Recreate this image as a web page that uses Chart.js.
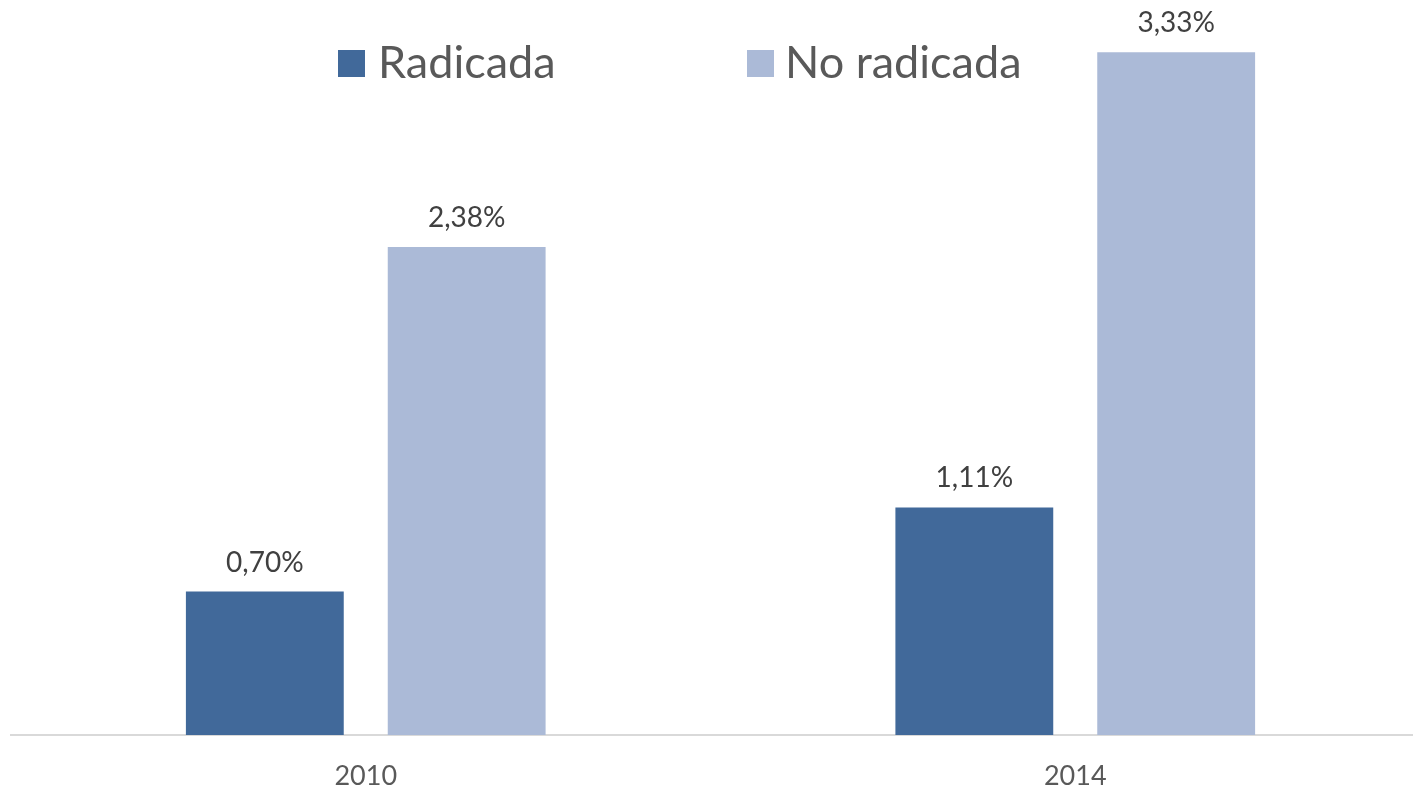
<!DOCTYPE html>
<html>
<head>
<meta charset="utf-8">
<script src="https://cdn.jsdelivr.net/npm/chart.js@4"></script>
<style>
  html, body { margin: 0; padding: 0; background: #fff; overflow: hidden; }
  #wrap { width: 1450px; height: 787px; position: relative; }
</style>
</head>
<body>
<div id="wrap"><canvas id="c"></canvas></div>
<script>
const categories = ["2010", "2014"];
const seriesNames = ["Radicada", "No radicada"];
const radicada = [0.70, 1.11];
const noRadicada = [2.38, 3.33];
const colors = ["#41699A", "#ABBAD7"];

const fmt = v => v.toFixed(2).replace('.', ',') + '%';

const labelPlugin = {
  id: 'barLabels',
  afterDatasetsDraw(chart) {
    const ctx = chart.ctx;
    ctx.save();
    ctx.font = '28px Lato';
    ctx.fillStyle = '#404040';
    ctx.textAlign = 'center';
    ctx.textBaseline = 'alphabetic';
    chart.data.datasets.forEach((ds, di) => {
      chart.getDatasetMeta(di).data.forEach((bar, i) => {
        ctx.fillText(fmt(ds.data[i]), bar.x, bar.y - 20);
      });
    });
    ctx.restore();
  }
};

const legendPlugin = {
  id: 'customLegend',
  afterDraw(chart) {
    const ctx = chart.ctx;
    ctx.save();
    ctx.font = '45px Lato';
    ctx.textBaseline = 'alphabetic';
    ctx.textAlign = 'left';
    const pos = [[338, 378], [747, 785]];
    chart.data.datasets.forEach((ds, di) => {
      ctx.fillStyle = ds.backgroundColor;
      ctx.fillRect(pos[di][0], 50, 27, 27);
      ctx.fillStyle = '#595959';
      ctx.fillText(ds.label, pos[di][1], 78);
    });
    ctx.restore();
  }
};

new Chart(document.getElementById('c'), {
  type: 'bar',
  data: {
    labels: categories,
    datasets: [
      { label: seriesNames[0], data: radicada, backgroundColor: colors[0] },
      { label: seriesNames[1], data: noRadicada, backgroundColor: colors[1] }
    ]
  },
  options: {
    responsive: true,
    maintainAspectRatio: false,
    animation: false,
    devicePixelRatio: 1,
    layout: { padding: { left: 11, right: 20, top: 17.5, bottom: 0 } },
    categoryPercentage: 0.569,
    barPercentage: 0.782,
    plugins: { legend: { display: false }, tooltip: { enabled: false } },
    scales: {
      x: {
        grid: { display: false, drawTicks: false },
        border: { display: true, color: '#D9D9D9', width: 2 },
        ticks: { color: '#595959', font: { family: 'Lato', size: 27 }, padding: 25 },
        afterFit: s => { s.height = 52; }
      },
      y: {
        display: false,
        min: 0,
        max: 3.5
      }
    }
  },
  plugins: [labelPlugin, legendPlugin]
});
</script>
</body>
</html>
